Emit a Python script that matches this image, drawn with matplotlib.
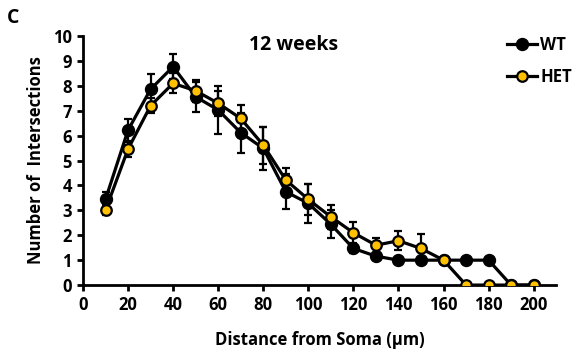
import numpy as np
import matplotlib
matplotlib.use("Agg")
import matplotlib.pyplot as plt
from matplotlib.lines import Line2D

plt.rcParams['font.family'] = ['Open Sans', 'DejaVu Sans']
plt.rcParams['font.weight'] = 'bold'

# distance from soma (um)
distance = [10, 20, 30, 40, 50, 60, 70, 80, 90, 100, 110, 120, 130, 140, 150, 160, 170, 180, 190, 200]

# intersections, WT
wt_mean = [3.44, 6.22, 7.86, 8.77, 7.56, 7.03, 6.12, 5.49, 3.75, 3.28, 2.44, 1.47, 1.16, 1.0, 1.0, 1.0, 1.0, 1.0, 0.0, 0.0]
wt_sem = [0.3, 0.43, 0.6, 0.5, 0.6, 0.95, 0.8, 0.87, 0.7, 0.78, 0.57, 0.2, 0.1, 0.0, 0.0, 0.0, 0.0, 0.0, 0.0, 0.0]

# intersections, HET
het_mean = [3.01, 5.46, 7.2, 8.1, 7.8, 7.3, 6.69, 5.62, 4.22, 3.44, 2.74, 2.1, 1.6, 1.78, 1.47, 1.0, 0.0, 0.0, 0.0, 0.0]
het_sem = [0.2, 0.3, 0.3, 0.4, 0.45, 0.5, 0.55, 0.74, 0.47, 0.62, 0.47, 0.44, 0.3, 0.39, 0.57, 0.0, 0.0, 0.0, 0.0, 0.0]

fig = plt.figure(figsize=(5.75, 3.55), dpi=100)
ax = fig.add_axes([0.1443, 0.197, 0.823, 0.7016])

wt_style = dict(color='black', lw=2.3, marker='o', ms=8.6, mfc='black', mec='black')
het_style = dict(color='black', lw=2.3, marker='o', ms=7.6, mfc='#FFC000', mec='black', mew=1.6)

ax.errorbar(distance, wt_mean, yerr=wt_sem, ecolor='black', elinewidth=1.6,
            capsize=2.8, capthick=1.6, zorder=3, **wt_style)
ax.errorbar(distance, het_mean, yerr=het_sem, ecolor='black', elinewidth=1.6,
            capsize=2.8, capthick=1.6, zorder=4, **het_style)

ax.set_xlim(0, 210)
ax.set_ylim(0, 10)
ax.set_xticks(range(0, 201, 20))
ax.set_yticks(range(0, 11))
for s in ['top', 'right']:
    ax.spines[s].set_visible(False)
for s in ['left', 'bottom']:
    ax.spines[s].set_linewidth(2)
ax.tick_params(axis='both', width=2, length=4, labelsize=12, direction='out', pad=4)
for lbl in ax.get_xticklabels() + ax.get_yticklabels():
    lbl.set_fontweight('bold')

ax.set_xlabel('Distance from Soma (µm)', fontsize=12, fontweight='bold', labelpad=12)
ax.set_ylabel('Number of  Intersections', fontsize=12, fontweight='bold', labelpad=6)
ax.text(0.444, 0.962, '12 weeks', transform=ax.transAxes, fontsize=14,
        fontweight='bold', ha='center', va='center')
fig.text(0.012, 0.95, 'C', fontsize=14, fontweight='bold', ha='left', va='center')

handles = [Line2D([], [], **wt_style), Line2D([], [], **het_style)]
ax.legend(handles, ['WT', 'HET'], loc='upper right', bbox_to_anchor=(1.065, 1.06),
          frameon=False, handlelength=1.8, handletextpad=0.2, labelspacing=0.85,
          prop={'weight': 'bold', 'size': 12})

fig.savefig('out.png', dpi=100)
